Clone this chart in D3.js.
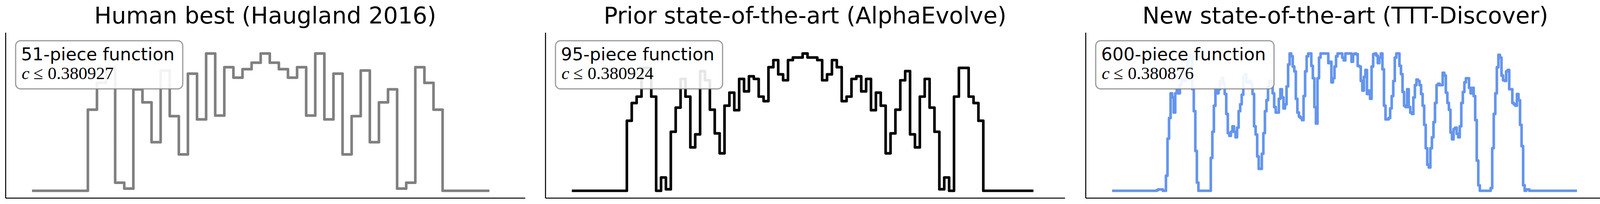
<!DOCTYPE html>
<html>
<head>
<meta charset="utf-8">
<script src="https://cdn.jsdelivr.net/npm/d3@7"></script>
<style>
  body { margin: 0; background: #fff; }
  svg { display: block; }
</style>
</head>
<body>
<svg id="chart"></svg>
<script>
// panel texts
const titles = [
  'Human best (Haugland 2016)',
  'Prior state-of-the-art (AlphaEvolve)',
  'New state-of-the-art (TTT-Discover)'
];
const pieceLabels = ['51-piece function', '95-piece function', '600-piece function'];
const bounds = ['0.380927', '0.380924', '0.380876'];
const pieceCounts = [51, 95, 600];
const lineColors = ['gray', 'black', 'cornflowerblue'];

// step heights, one value per piece
const humanValues = [
  0, 0, 0, 0, 0, 0,
  0.591, 0.786, 0.900, 0.059, 0.016, 0.739, 0.644, 0.354, 0.876, 0.544,
  0.265, 0.853, 0.520, 1.000, 0.548, 0.900, 0.824, 0.886, 0.933, 1.000,
  0.933, 0.886, 0.824, 0.900, 0.548, 1.000, 0.520, 0.853, 0.265, 0.544,
  0.876, 0.354, 0.644, 0.739, 0.016, 0.059, 0.900, 0.786, 0.591,
  0, 0, 0, 0, 0, 0
];

const alphaValues = [
  0, 0, 0, 0, 0, 0, 0, 0, 0, 0, 0,
  0.510, 0.639, 0.686, 0.895, 0.895, 0.686, 0, 0.097, 0.011, 0.430,
  0.606, 0.815, 0.686, 0.316, 0.411, 0.872, 0.805, 0.591, 0.418, 0.273,
  0.620, 0.715, 0.587, 0.815, 0.724, 0.834, 0.815, 0.686, 0.653, 0.900,
  0.952, 0.848, 0.805, 0.952, 0.971, 0.971, 1.000, 0.971, 0.971, 0.952,
  0.805, 0.848, 0.952, 0.900, 0.653, 0.686, 0.815, 0.834, 0.724, 0.815,
  0.587, 0.715, 0.620, 0.273, 0.418, 0.591, 0.805, 0.872, 0.411, 0.316,
  0.686, 0.815, 0.606, 0.430, 0.011, 0.097, 0, 0.686, 0.895, 0.895,
  0.686, 0.639, 0.510,
  0, 0, 0, 0, 0, 0, 0, 0, 0, 0, 0
];

const tttBlock = 2;
const tttValues = [
  0, 0, 0, 0, 0, 0, 0, 0, 0, 0,
  0, 0, 0, 0, 0, 0, 0, 0, 0, 0,
  0, 0, 0, 0, 0, 0, 0, 0, 0.005, 0.01,
  0.01, 0.01, 0, 0, 0.11, 0.38, 0.53, 0.71, 0.68, 0.57,
  0.71, 0.74, 0.71, 0.77, 0.81, 0.80, 0.80, 0.85, 0.94, 0.98,
  0.99, 0.74, 0.58, 0.29, 0.06, 0, 0, 0, 0, 0,
  0, 0, 0, 0.24, 0.43, 0.62, 0.74, 0.71, 0.74, 0.80,
  0.82, 0.78, 0.705, 0.56, 0.42, 0.40, 0.43, 0.47, 0.43, 0.39,
  0.46, 0.58, 0.63, 0.70, 0.83, 0.85, 0.79, 0.79, 0.80, 0.78,
  0.705, 0.47, 0.41, 0.25, 0.16, 0.16, 0.27, 0.42, 0.58, 0.66,
  0.76, 0.80, 0.79, 0.71, 0.61, 0.57, 0.57, 0.67, 0.74, 0.68,
  0.60, 0.63, 0.76, 0.92, 1.0, 0.98, 0.905, 0.87, 0.67, 0.57,
  0.54, 0.53, 0.515, 0.69, 0.87, 0.98, 1.0, 1.0, 0.91, 0.82,
  0.61, 0.49, 0.82, 0.97, 1.0, 1.0, 1.0, 1.0, 1.0, 0.93,
  0.94, 0.79, 0.82, 0.905, 0.98, 1.0, 1.0, 1.0, 0.97, 0.95,
  1.0, 1.0, 1.0, 1.0, 0.94, 0.995, 1.0, 0.995, 0.91, 0.905,
  0.80, 0.73, 0.83, 0.88, 0.705, 0.73, 0.67, 0.905, 0.995, 1.0,
  0.985, 0.93, 0.97, 1.0, 0.885, 0.62, 0.52, 0.52, 0.53, 0.60,
  0.69, 0.80, 0.97, 1.0, 1.0, 0.91, 0.85, 0.72, 0.62, 0.61,
  0.74, 0.61, 0.57, 0.56, 0.68, 0.77, 0.81, 0.80, 0.77, 0.705,
  0.62, 0.48, 0.31, 0.19, 0.17, 0.31, 0.39, 0.50, 0.64, 0.77,
  0.78, 0.77, 0.77, 0.86, 0.84, 0.715, 0.64, 0.59, 0.425, 0.375,
  0.45, 0.46, 0.415, 0.39, 0.47, 0.64, 0.72, 0.79, 0.82, 0.82,
  0.75, 0.71, 0.75, 0.69, 0.515, 0.22, 0.04, 0, 0, 0,
  0, 0, 0, 0, 0.02, 0.31, 0.56, 0.71, 0.90, 0.99,
  0.97, 0.84, 0.805, 0.80, 0.87, 0.88, 0.74, 0.74, 0.64, 0.63,
  0.62, 0.705, 0.66, 0.48, 0.325, 0.04, 0, 0.01, 0.01, 0,
  0, 0, 0, 0, 0, 0, 0, 0, 0, 0,
  0, 0, 0, 0, 0, 0, 0, 0, 0, 0,
  0, 0, 0, 0, 0, 0, 0, 0, 0, 0
];

const panels = titles.map((title, i) => ({
  title,
  label: pieceLabels[i],
  bound: bounds[i],
  n: pieceCounts[i],
  color: lineColors[i],
  values: [humanValues, alphaValues, tttValues][i],
  step: i === 2 ? tttBlock : 1
}));

const width = 4122;
const height = 521;
const panelLeft = [14, 1396, 2779];
const panelWidth = 1330;
const axisTop = 83;
const axisBottom = 505.5;

const svg = d3.select('#chart')
  .attr('width', width)
  .attr('height', height);

svg.append('rect')
  .attr('width', width)
  .attr('height', height)
  .attr('fill', '#fff');

const y = d3.scaleLinear().domain([-0.052, 1.153]).range([axisBottom, axisTop]);

panels.forEach((p, k) => {
  const left = panelLeft[k];
  const x = d3.scaleLinear()
    .domain([-0.06 * p.n, 1.06 * p.n])
    .range([left, left + panelWidth]);

  const g = svg.append('g');

  // only the left and bottom spines, no ticks
  g.append('g')
    .attr('transform', `translate(0,${axisBottom})`)
    .call(d3.axisBottom(x).ticks(0).tickSizeOuter(0))
    .call(a => a.select('.domain').attr('stroke', '#000').attr('stroke-width', 2.6));
  g.append('g')
    .attr('transform', `translate(${left},0)`)
    .call(d3.axisLeft(y).ticks(0).tickSizeOuter(0))
    .call(a => a.select('.domain').attr('stroke', '#000').attr('stroke-width', 2.6));

  const line = d3.line()
    .x((d, i) => x(i * p.step))
    .y(d => y(d))
    .curve(d3.curveStepAfter);

  g.append('path')
    .datum(p.values)
    .attr('d', line)
    .attr('fill', 'none')
    .attr('stroke', p.color)
    .attr('stroke-width', 6.7)
    .attr('stroke-linejoin', 'round')
    .attr('stroke-linecap', 'square');

  // text box in the top left corner
  const box = g.append('rect')
    .attr('x', left + 26)
    .attr('y', 104)
    .attr('height', 123)
    .attr('rx', 13)
    .attr('fill', '#fff')
    .attr('fill-opacity', 0.9)
    .attr('stroke', 'gray')
    .attr('stroke-opacity', 0.8)
    .attr('stroke-width', 3);

  const label = g.append('text')
    .attr('x', left + 40)
    .attr('y', 154)
    .attr('font-family', 'DejaVu Sans')
    .attr('font-size', 45)
    .text(p.label);

  const bound = g.append('text')
    .attr('x', left + 41.5)
    .attr('y', 201.7)
    .attr('font-family', 'Liberation Serif')
    .attr('font-size', 45);
  bound.append('tspan').attr('font-style', 'italic').text('c');
  bound.append('tspan').attr('dx', 10).text('\u2264');
  bound.append('tspan').attr('dx', 12).text(p.bound);

  box.attr('width', label.node().getComputedTextLength() + 35);

  g.append('text')
    .attr('x', left + panelWidth / 2)
    .attr('y', 60)
    .attr('text-anchor', 'middle')
    .attr('font-family', 'DejaVu Sans')
    .attr('font-size', 59)
    .text(p.title);
});
</script>
</body>
</html>
